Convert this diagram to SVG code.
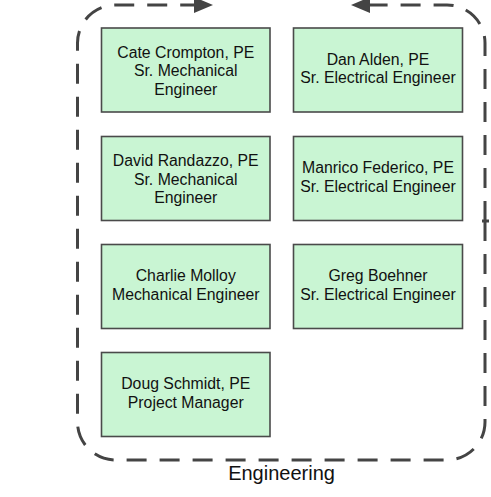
<svg xmlns="http://www.w3.org/2000/svg" width="491" height="497" viewBox="0 0 491 497">
<style>
.box{fill:#c9f5d3;stroke:#4a4a4a;stroke-width:1.6}
.t{font-family:"Liberation Sans",Arial,sans-serif;font-size:15.8px;fill:#111;text-anchor:middle}
.lbl{font-family:"Liberation Sans",Arial,sans-serif;font-size:20px;fill:#111;text-anchor:middle}
.edge{fill:none;stroke:#444;stroke-width:3;stroke-dasharray:20 13}
</style>
<defs>
<marker id="ah" markerUnits="userSpaceOnUse" markerWidth="22" markerHeight="20" refX="0" refY="9" orient="auto" overflow="visible">
<path d="M0,1 L19,9 L0,17 z" fill="#444"/>
</marker>
</defs>
<rect width="491" height="497" fill="#fff"/>
<g id="connectors">
<path class="edge" d="M485,221 V43 A38,38 0 0 0 447,5 H370" marker-end="url(#ah)"/>
<path class="edge" d="M485,221 V422 A38,38 0 0 1 447,460 H115.5 A38,38 0 0 1 77.5,422 V43 A38,38 0 0 1 115.5,5 H194" marker-end="url(#ah)"/>
<path d="M482,221 H489" stroke="#444" stroke-width="3"/>
</g>
<g id="n1"><rect class="box" x="101.5" y="28" width="168.5" height="84"/>
<text class="t"><tspan x="185.75" y="57.5">Cate Crompton, PE</tspan><tspan x="185.75" y="76">Sr. Mechanical</tspan><tspan x="185.75" y="94.5">Engineer</tspan></text></g>
<g id="n2"><rect class="box" x="293.5" y="28" width="169" height="84"/>
<text class="t"><tspan x="378" y="64.5">Dan Alden, PE</tspan><tspan x="378" y="83">Sr. Electrical Engineer</tspan></text></g>
<g id="n3"><rect class="box" x="101.5" y="136.5" width="168.5" height="84"/>
<text class="t"><tspan x="185.75" y="166">David Randazzo, PE</tspan><tspan x="185.75" y="184.5">Sr. Mechanical</tspan><tspan x="185.75" y="203">Engineer</tspan></text></g>
<g id="n4"><rect class="box" x="293.5" y="136.5" width="169" height="84"/>
<text class="t"><tspan x="378" y="173">Manrico Federico, PE</tspan><tspan x="378" y="191.5">Sr. Electrical Engineer</tspan></text></g>
<g id="n5"><rect class="box" x="101.5" y="244.5" width="168.5" height="84"/>
<text class="t"><tspan x="185.75" y="281">Charlie Molloy</tspan><tspan x="185.75" y="299.5">Mechanical Engineer</tspan></text></g>
<g id="n6"><rect class="box" x="293.5" y="244.5" width="169" height="84"/>
<text class="t"><tspan x="378" y="281">Greg Boehner</tspan><tspan x="378" y="299.5">Sr. Electrical Engineer</tspan></text></g>
<g id="n7"><rect class="box" x="101.5" y="352.5" width="168.5" height="84"/>
<text class="t"><tspan x="185.75" y="389">Doug Schmidt, PE</tspan><tspan x="185.75" y="407.5">Project Manager</tspan></text></g>
<g id="group-label"><text class="lbl" x="281.5" y="480">Engineering</text></g>
</svg>
